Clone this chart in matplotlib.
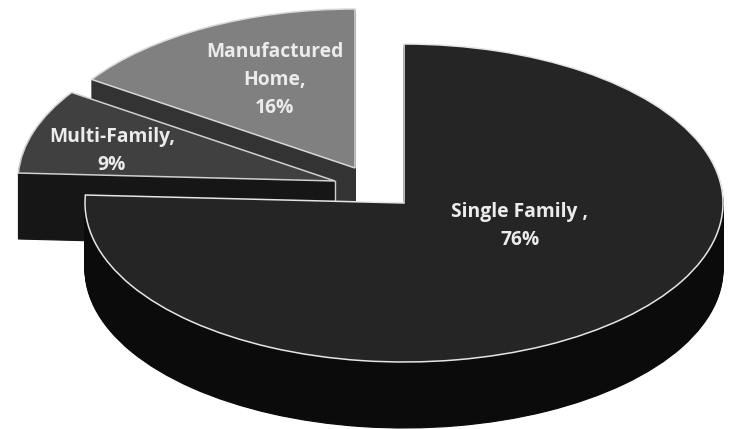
import matplotlib
matplotlib.use('Agg')
import matplotlib.pyplot as plt
from matplotlib.patches import Wedge
from matplotlib.transforms import Affine2D

categories = ['Single Family ,', 'Multi-Family,', 'Manufactured\nHome,']
shares = [75.8, 8.6, 15.6]
labels = ['76%', '9%', '16%']

# layout, in pixels of the 731x429 picture
centers = [(404, 203), (335, 181), (355, 168)]
radii_x = [319, 317, 317]
label_pos = [(520, 226), (112, 151), (275, 80)]
top_colors = ['#252525', '#404040', '#808080']
side_colors = ['#0b0b0b', '#161616', '#333333']
edge_colors = ['#e6e6e6', '#d0d0d0', '#d8d8d8']
ry = 159
depth = 66

plt.rcParams['font.family'] = ['Open Sans', 'DejaVu Sans']

fig = plt.figure(figsize=(7.31, 4.29), dpi=100)
ax = fig.add_axes([0, 0, 1, 1])
ax.set_xlim(0, 731)
ax.set_ylim(429, 0)
ax.axis('off')

# slices go clockwise from 12 o'clock
spans = [s / sum(shares) * 360 for s in shares]
ends = [90 - sum(spans[:i]) for i in range(3)]
starts = [e - sp for e, sp in zip(ends, spans)]


def slice_patch(i, dy=0, **kw):
    cx, cy = centers[i]
    tr = Affine2D().scale(radii_x[i], -ry).translate(cx, cy + dy) + ax.transData
    return Wedge((0, 0), 1, starts[i], ends[i], transform=tr, **kw)


# back to front: manufactured, multi, single
z = 1
for i in [2, 1, 0]:
    for d in range(depth, 0, -1):
        ax.add_patch(slice_patch(i, d, facecolor=side_colors[i],
                                 edgecolor=side_colors[i], linewidth=0.8, zorder=z))
    ax.add_patch(slice_patch(i, facecolor=top_colors[i],
                             edgecolor=edge_colors[i], linewidth=1.1, zorder=z + 1))
    if i == 1:
        # light corner on the multi-family side
        cx, cy = centers[i]
        ax.plot([cx, cx], [cy, cy + depth], color=edge_colors[i], linewidth=1.0, zorder=z + 1)
    z += 2

for cat, lab, (x, y) in zip(categories, labels, label_pos):
    ax.text(x, y, cat + '\n' + lab, color='#ececec', fontsize=13.9,
            fontweight='bold', ha='center', va='center', linespacing=1.53, zorder=z)

fig.savefig('out.png', dpi=100)
